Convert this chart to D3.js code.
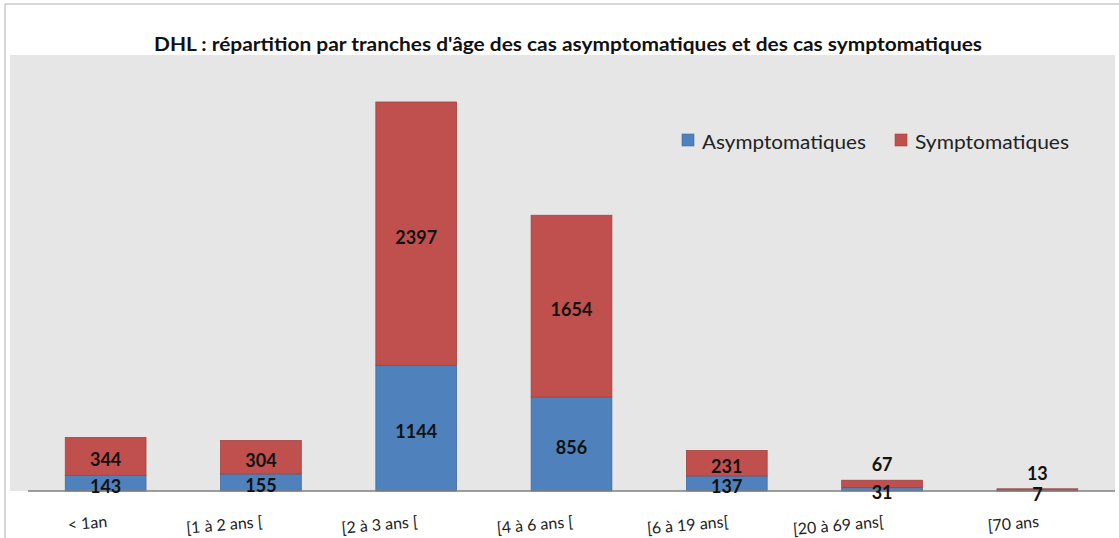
<!DOCTYPE html>
<html><head><meta charset="utf-8">
<script src="https://cdn.jsdelivr.net/npm/d3@7"></script>
<style>body{margin:0;background:#fff}svg{display:block}</style>
</head><body>
<svg id="c" width="1119" height="538"></svg>
<script>
const categories = ["< 1an", "[1 à 2 ans [", "[2 à 3 ans [", "[4 à 6 ans [", "[6 à 19 ans[", "[20 à 69 ans[", "[70 ans"];
const asymptomatiques = [143, 155, 1144, 856, 137, 31, 7];
const symptomatiques = [344, 304, 2397, 1654, 231, 67, 13];
const seriesNames = ["Asymptomatiques", "Symptomatiques"];
const colors = ["#4f81bd", "#c0504d"];
const title = "DHL : répartition par tranches d'âge des cas asymptomatiques et des cas symptomatiques";

const svg = d3.select("#c");
const font = "Lato, 'Open Sans', sans-serif";

// outer frame
svg.append("line").attr("x1", 5).attr("x2", 1119).attr("y1", 4).attr("y2", 4).attr("stroke", "#c8c8c8").attr("stroke-width", 1.5);
svg.append("line").attr("x1", 5).attr("x2", 5).attr("y1", 4).attr("y2", 538).attr("stroke", "#c8c8c8").attr("stroke-width", 1.5);

// plot background
const plotTop = 55, baseY = 491, left = 28, right = 1115;
svg.append("rect").attr("x", 10).attr("y", plotTop).attr("width", 1105).attr("height", baseY - plotTop).attr("fill", "#e6e6e6");

svg.append("text").attr("x", 568).attr("y", 51).attr("text-anchor", "middle")
  .attr("font-family", font).attr("font-weight", "bold").attr("font-size", 18.5).attr("fill", "#111")
  .attr("textLength", 828).attr("lengthAdjust", "spacingAndGlyphs")
  .text(title);

const x = d3.scaleBand().domain(categories).range([left, right]).paddingInner(0.48).paddingOuter(0.24);
const y = d3.scaleLinear().domain([0, 3541]).range([baseY, 102]);

const data = categories.map((c, i) => ({cat: c, a: asymptomatiques[i], s: symptomatiques[i]}));
const stack = d3.stack().keys(["a", "s"])(data);

stack.forEach((layer, li) => {
  svg.append("g").selectAll("rect").data(layer).join("rect")
    .attr("x", d => x(d.data.cat))
    .attr("width", x.bandwidth())
    .attr("y", d => y(d[1]))
    .attr("height", d => y(d[0]) - y(d[1]))
    .attr("fill", colors[li])
    .attr("stroke", d3.color(colors[li]).darker(0.5))
    .attr("stroke-width", 0.8);
});

// axis line
svg.append("line").attr("x1", left).attr("x2", right).attr("y1", baseY).attr("y2", baseY).attr("stroke", "#7f7f7f").attr("stroke-width", 1.5);

// value labels
stack.forEach((layer, li) => {
  svg.append("g").selectAll("text").data(layer).join("text")
    .attr("x", d => x(d.data.cat) + x.bandwidth() / 2)
    .attr("y", d => {
      const h = y(d[0]) - y(d[1]);
      if (li === 1 && h < 15) return y(d[1]) - 16;
      return (y(d[0]) + y(d[1])) / 2 + 3;
    })
    .attr("dominant-baseline", "central")
    .attr("text-anchor", "middle")
    .attr("font-family", font).attr("font-weight", "bold").attr("font-size", 18).attr("fill", "#111")
    .text(d => d[1] - d[0]);
});

// category labels
svg.append("g").selectAll("text").data(categories).join("text")
  .attr("transform", d => `translate(${x(d) + x.bandwidth() / 2 + 2},${527}) rotate(-5)`)
  .attr("text-anchor", "end")
  .attr("font-family", font).attr("font-size", 16).attr("fill", "#222")
  .text(d => d);

// legend
const legendX = [682, 895];
const legendW = [164, 154];
seriesNames.forEach((n, i) => {
  svg.append("rect").attr("x", legendX[i]).attr("y", 134).attr("width", 12).attr("height", 12)
    .attr("fill", colors[i]).attr("stroke", d3.color(colors[i]).darker(0.5)).attr("stroke-width", 0.6);
  svg.append("text").attr("x", legendX[i] + 20).attr("y", 141).attr("dominant-baseline", "central")
    .attr("font-family", font).attr("font-size", 19.5).attr("fill", "#222")
    .attr("textLength", legendW[i]).attr("lengthAdjust", "spacingAndGlyphs").text(n);
});
</script>
</body></html>
